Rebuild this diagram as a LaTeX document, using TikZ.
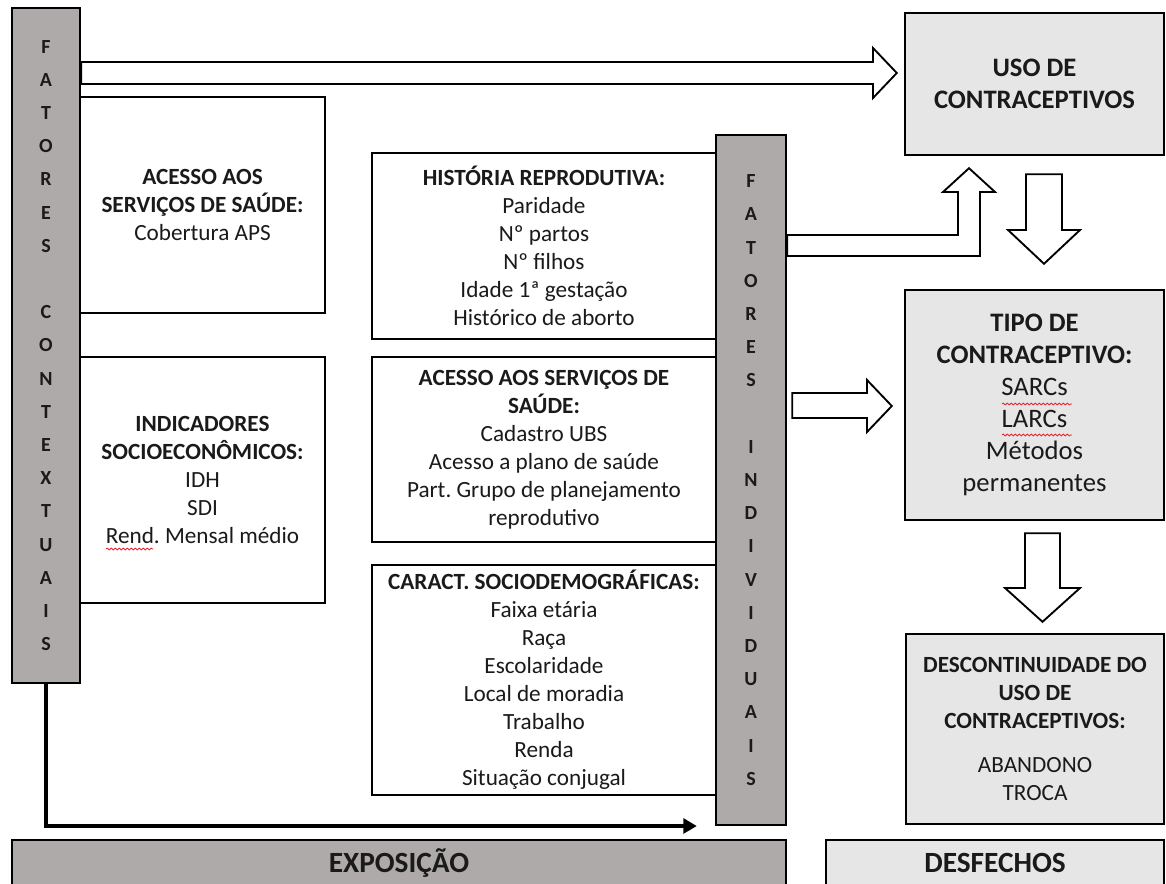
\documentclass[tikz,border=0pt]{standalone}
\usepackage{fontspec}
\setmainfont{Carlito}
\usetikzlibrary{arrows.meta,calc,decorations.pathmorphing,backgrounds}
\definecolor{barfill}{HTML}{AEAAAA}
\definecolor{boxfill}{HTML}{E7E6E6}
\definecolor{txt}{HTML}{1A1A1A}
\definecolor{wavyred}{HTML}{E8262B}
\begin{document}
\begin{tikzpicture}[x=0.75pt,y=-0.75pt,
  box/.style={draw=black, line width=1.8pt, text=txt, align=center, inner sep=0pt},
  whitebox/.style={box, fill=white},
  greybox/.style={box, fill=boxfill},
  barbox/.style={box, fill=barfill, font=\fontsize{15}{24.9}\selectfont\bfseries},
  blockarrow/.style={draw=black, fill=white, line width=1.4pt, line join=miter},
  tsmall/.style={font=\fontsize{17.4}{21}\selectfont},
  tlarge/.style={font=\fontsize{20}{24}\selectfont},
  tfoot/.style={font=\fontsize{22}{26}\selectfont\bfseries},
  wave/.style={draw=wavyred, line width=0.6pt, decorate, decoration={snake, amplitude=0.7pt, segment length=3pt}},
]
\useasboundingbox (0,0) rectangle (1166,884);
\clip (0,0) rectangle (1166,884);

% contextual boxes
\node[whitebox, tsmall, minimum width=183.75pt, minimum height=162pt] (accL) at (202.5,205)
  {\textbf{ACESSO AOS}\\\textbf{SERVIÇOS DE SAÚDE:}\\Cobertura APS};
\node[whitebox, tsmall, minimum width=183.75pt, minimum height=184.5pt] (indL) at (202.5,480)
  {\textbf{INDICADORES}\\\textbf{SOCIOECONÔMICOS:}\\IDH\\SDI\\Rend.\ Mensal médio};

% individual boxes
\node[whitebox, tsmall, minimum width=258pt, minimum height=139.5pt] (hist) at (544,246)
  {\textbf{HISTÓRIA REPRODUTIVA:}\\Paridade\\Nº partos\\Nº filhos\\Idade 1ª gestação\\Histórico de aborto};
\node[whitebox, tsmall, minimum width=258pt, minimum height=138.75pt] (acc2) at (544,449.5)
  {\textbf{ACESSO AOS SERVIÇOS DE}\\\textbf{SAÚDE:}\\Cadastro UBS\\Acesso a plano de saúde\\Part.\ Grupo de planejamento\\reprodutivo};
\node[whitebox, tsmall, minimum width=258pt, minimum height=172.5pt] (car) at (544,680)
  {\textbf{CARACT.\ SOCIODEMOGRÁFICAS:}\\Faixa etária\\Raça\\Escolaridade\\Local de moradia\\Trabalho\\Renda\\Situação conjugal};

% bars
\node[barbox, minimum width=51pt, minimum height=506.25pt] (lbar) at (46,345.5)
  {F\\A\\T\\O\\R\\E\\S\\[24.9pt]C\\O\\N\\T\\E\\X\\T\\U\\A\\I\\S};
\node[barbox, minimum width=52.5pt, minimum height=517.5pt] (rbar) at (751,480)
  {F\\A\\T\\O\\R\\E\\S\\[24.9pt]I\\N\\D\\I\\V\\I\\D\\U\\A\\I\\S};

% outcome boxes
\node[greybox, tlarge, minimum width=194.25pt, minimum height=106.5pt] (uso) at (1034.5,84)
  {\textbf{USO DE}\\\textbf{CONTRACEPTIVOS}};
\node[greybox, tlarge, minimum width=194.25pt, minimum height=172.5pt] (tipo) at (1034.5,405)
  {\textbf{TIPO DE}\\\textbf{CONTRACEPTIVO:}\\SARCs\\LARCs\\Métodos\\permanentes};
\node[greybox, tsmall, minimum width=193.5pt, minimum height=142.5pt] (desc) at (1035,729)
  {\textbf{DESCONTINUIDADE DO}\\\textbf{USO DE}\\\textbf{CONTRACEPTIVOS:}\\[12pt]ABANDONO\\TROCA};

% footer bars
\node[box, fill=barfill, tfoot, minimum width=580.5pt, minimum height=34.5pt] (expo) at (399,863) {EXPOSIÇÃO};
\node[box, fill=boxfill, tfoot, minimum width=253.5pt, minimum height=34.5pt] (desf) at (995,863) {DESFECHOS};

% arrows (behind)
\begin{pgfonlayer}{background}
\draw[blockarrow] (lbar.east |- 0,62) -- (873,62) -- (873,48) -- ($(uso.west |- 0,73)+(-7,0)$)
  -- (873,98) -- (873,84) -- (lbar.east |- 0,84) -- cycle;
\draw[blockarrow] (rbar.east |- 0,235) -- (958,235) -- (958,192) -- (943,192)
  -- ($(uso.south -| 969,0)+(0,12)$) -- (995,192) -- (980,192) -- (980,256) -- (rbar.east |- 0,256) -- cycle;
\draw[blockarrow] ($(rbar.east |- 0,393)+(5,0)$) -- (867,393) -- (867,380) -- ($(tipo.west |- 0,406)+(-12,0)$)
  -- (867,432) -- (867,418) -- ($(rbar.east |- 0,418)+(5,0)$) -- cycle;
\draw[blockarrow] ($(uso.south -| 1026,0)+(0,18)$) -- ($(uso.south -| 1062,0)+(0,18)$) -- (1062,230) -- (1080,230)
  -- ($(tipo.north -| 1044,0)+(0,-25)$) -- (1008,230) -- (1026,230) -- cycle;
\draw[blockarrow] ($(tipo.south -| 1025,0)+(0,12)$) -- ($(tipo.south -| 1060,0)+(0,12)$) -- (1060,588) -- (1080,588)
  -- ($(desc.north -| 1042.5,0)+(0,-11)$) -- (1005,588) -- (1025,588) -- cycle;
\end{pgfonlayer}

\draw[line width=2.6pt, -{Triangle[length=10pt,width=11pt]}]
  (lbar.south) -- (lbar.south |- 0,826) -- ($(rbar.west |- 0,826)+(-18,0)$);

% spell-check underlines
\draw[wave] (106,549) -- (153,549);
\draw[wave] (1002,404) -- (1072,404);
\draw[wave] (1002,435) -- (1072,435);
\end{tikzpicture}
\end{document}
